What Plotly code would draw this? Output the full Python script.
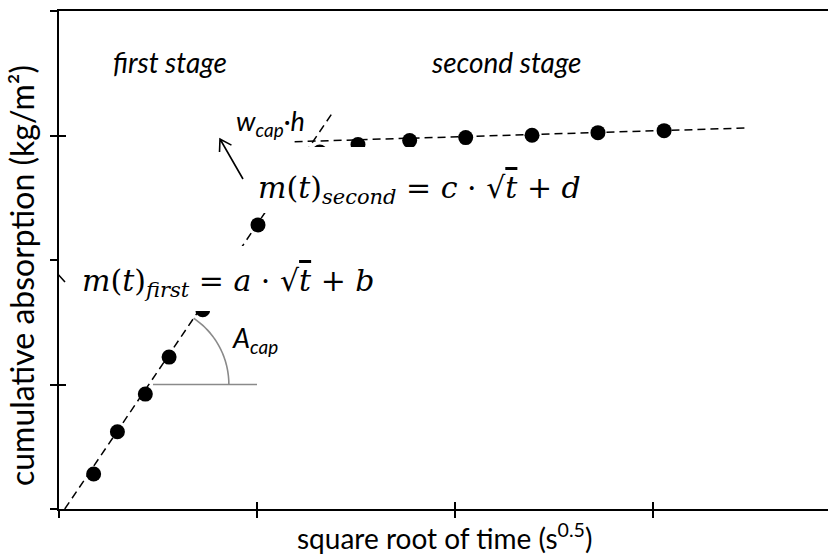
import numpy as np
import plotly.graph_objects as go

# ---------------- data (axis units) ----------------
first_x = [0.175, 0.295, 0.436, 0.556, 0.726, 1.005]
first_y = [0.281, 0.620, 0.923, 1.220, 1.600, 2.282]
second_x = [1.317, 1.510, 1.771, 2.054, 2.389, 2.722, 3.056]
second_y = [2.868, 2.928, 2.959, 2.983, 3.002, 3.023, 3.039]
fit1_x = [0.029, 1.377]
fit1_y = [0.000, 3.173]
fit2_x = [1.190, 3.467]
fit2_y = [2.950, 3.060]
x_ticks = [0, 1, 2, 3]
y_ticks = [0, 1, 2, 3, 4]

# ---------------- geometry ----------------
W, H = 828, 555
L, R, T, B = 59, 0, 11, 46
PW, PH = W - L - R, H - T - B
XPX = 198.0                      # pixels per x unit
XMAX = PW / XPX
YMAX = 4.0
YPX = PH / YMAX

def dx(px):
    return (px - L) / XPX

def dy(py):
    return (H - B - py) / YPX

SANS = "Lato"
SERIF = "DejaVu Serif"

fig = go.Figure()
fig.add_trace(go.Scatter(x=fit1_x, y=fit1_y, mode="lines",
                         line=dict(color="black", width=1.5, dash="8px,5px"),
                         hoverinfo="skip", showlegend=False))
fig.add_trace(go.Scatter(x=fit2_x, y=fit2_y, mode="lines",
                         line=dict(color="black", width=1.5, dash="8px,5px"),
                         hoverinfo="skip", showlegend=False))
fig.add_trace(go.Scatter(x=first_x + second_x, y=first_y + second_y, mode="markers",
                         marker=dict(color="black", size=15, line=dict(width=0)),
                         showlegend=False))

# angle A_cap: horizontal reference + arc
slope_px = (fit1_y[1] - fit1_y[0]) / (fit1_x[1] - fit1_x[0]) * YPX / XPX
ang = np.arctan(slope_px)
cy = 1.0
cx = fit1_x[0] + (cy - fit1_y[0]) * (fit1_x[1] - fit1_x[0]) / (fit1_y[1] - fit1_y[0])
rad = 80.0
th = np.linspace(0, ang, 40)
ax_ = cx + rad / XPX * np.cos(th)
ay_ = cy + rad / YPX * np.sin(th)
arc_path = "M" + " L".join(f"{a:.4f},{b:.4f}" for a, b in zip(ax_, ay_))

shapes = [
    dict(type="line", xref="x", yref="y", x0=dx(153), x1=dx(257), y0=cy, y1=cy,
         line=dict(color="#8a8a8a", width=1.6), layer="above"),
    dict(type="path", xref="x", yref="y", path=arc_path,
         line=dict(color="#8a8a8a", width=1.6), layer="above"),
    # white boxes behind the formulas
    dict(type="rect", xref="x", yref="y", x0=dx(42), x1=dx(385), y0=dy(311), y1=dy(246),
         fillcolor="white", line=dict(width=0), layer="above"),
    dict(type="rect", xref="x", yref="y", x0=dx(252), x1=dx(600), y0=dy(213), y1=dy(147),
         fillcolor="white", line=dict(width=0), layer="above"),
]

def arrow(tail, tip, wing=13, spread=np.radians(32)):
    vx, vy = tail[0] - tip[0], tail[1] - tip[1]
    n = np.hypot(vx, vy)
    ux, uy = vx / n, vy / n
    pts = []
    for s in (spread, -spread):
        c, si = np.cos(s), np.sin(s)
        wx, wy = ux * c - uy * si, ux * si + uy * c
        pts.append((tip[0] + wing * wx, tip[1] + wing * wy))
    p = (f"M{dx(tail[0]):.4f},{dy(tail[1]):.4f} L{dx(tip[0]):.4f},{dy(tip[1]):.4f} "
         f"M{dx(pts[0][0]):.4f},{dy(pts[0][1]):.4f} L{dx(tip[0]):.4f},{dy(tip[1]):.4f} "
         f"L{dx(pts[1][0]):.4f},{dy(pts[1][1]):.4f}")
    return dict(type="path", xref="x", yref="y", path=p,
                line=dict(color="black", width=1.6), layer="above")

shapes.append(arrow((243, 179), (220, 139)))
shapes.append(arrow((65, 282), (33, 247)))

ov = '<span style="text-decoration:overline">'
annotations = [
    dict(text="<i>first stage</i>", x=dx(170), y=dy(62), xanchor="center", yanchor="middle",
         font=dict(family=SANS, size=28, color="black")),
    dict(text="<i>second stage</i>", x=dx(506), y=dy(62), xanchor="center", yanchor="middle",
         font=dict(family=SANS, size=28, color="black")),
    dict(text="<i>w<sub>cap</sub>·h</i>", x=dx(234), y=dy(122), xanchor="left", yanchor="middle",
         font=dict(family=SANS, size=27, color="black")),
    dict(text="<i>A<sub>cap</sub></i>", x=dx(230), y=dy(339), xanchor="left", yanchor="middle",
         font=dict(family=SANS, size=27, color="black")),
    dict(text="<i>m</i>(<i>t</i>)<sub><i>second</i></sub> = <i>c</i> · √" + ov + "<i>t</i></span> + <i>d</i>",
         x=dx(256), y=dy(189), xanchor="left", yanchor="middle",
         font=dict(family=SERIF, size=30, color="black")),
    dict(text="<i>m</i>(<i>t</i>)<sub><i>first</i></sub> = <i>a</i> · √" + ov + "<i>t</i></span> + <i>b</i>",
         x=dx(80), y=dy(282), xanchor="left", yanchor="middle",
         font=dict(family=SERIF, size=30, color="black")),
    # axis titles
    dict(text="square root of time (s<sup>0.5</sup>)", xref="paper", yref="paper",
         x=(444 - L) / PW, y=-(536 - (H - B)) / PH, xanchor="center", yanchor="middle",
         font=dict(family=SANS, size=28, color="black")),
    dict(text="cumulative absorption (kg/m²)", xref="paper", yref="paper", textangle=-90,
         x=-(L - 21) / PW, y=(H - B - 276) / PH, xanchor="center", yanchor="middle",
         font=dict(family=SANS, size=32, color="black")),
]
for a in annotations:
    a.setdefault("xref", "x")
    a.setdefault("yref", "y")
    a["showarrow"] = False

axis_common = dict(showgrid=False, zeroline=False, showticklabels=False,
                   ticklen=7, tickwidth=1.5, tickcolor="black")
fig.update_layout(
    width=W, height=H,
    margin=dict(l=L, r=R, t=T, b=B),
    paper_bgcolor="white", plot_bgcolor="white",
    xaxis=dict(range=[0, XMAX], tickvals=x_ticks, ticks="outside", showline=True,
               linecolor="black", linewidth=1.6, mirror=True, **axis_common),
    yaxis=dict(range=[0, YMAX], tickvals=y_ticks, ticks="outside", showline=True,
               linecolor="black", linewidth=1.6, **axis_common),
    xaxis2=dict(range=[0, XMAX], tickvals=x_ticks, ticks="inside", overlaying="x",
                showline=False, **axis_common),
    yaxis2=dict(range=[0, YMAX], tickvals=y_ticks, ticks="inside", overlaying="y",
                showline=False, **axis_common),
    shapes=shapes,
    annotations=annotations,
    showlegend=False,
)
# invisible trace to activate the overlay axes
fig.add_trace(go.Scatter(x=[None], y=[None], xaxis="x2", yaxis="y2", showlegend=False,
                         hoverinfo="skip"))

fig.write_html("out.html", config={"displayModeBar": False},
               post_script="document.body.style.margin='0';document.body.style.overflow='hidden';")
